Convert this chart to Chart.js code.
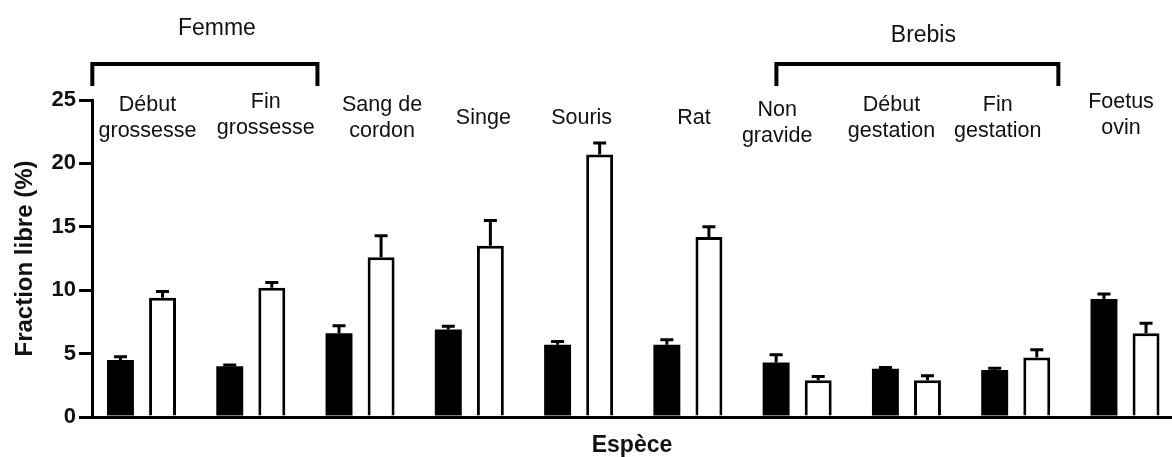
<!DOCTYPE html>
<html lang="fr">
<head>
<meta charset="utf-8">
<title>Fraction libre par espèce</title>
<script src="https://cdn.jsdelivr.net/npm/chart.js@4/dist/chart.umd.min.js"></script>
<style>
  html, body { margin: 0; padding: 0; background: #ffffff; overflow: hidden; }
  #wrap { width: 1172px; height: 457px; }
</style>
</head>
<body>
<div id="wrap"><canvas id="chart" width="1172" height="457"></canvas></div>
<script>
// Categories (one per pair of bars), written as label lines
const categories = [
  ['Début', 'grossesse'],
  ['Fin', 'grossesse'],
  ['Sang de', 'cordon'],
  ['Singe'],
  ['Souris'],
  ['Rat'],
  ['Non', 'gravide'],
  ['Début', 'gestation'],
  ['Fin', 'gestation'],
  ['Foetus', 'ovin']
];

// Filled bars and their upper error (SEM)
const solidValues = [4.5, 4.0, 6.6, 6.9, 5.7, 5.7, 4.3, 3.8, 3.7, 9.3];
const solidErrors = [0.25, 0.1, 0.6, 0.25, 0.25, 0.4, 0.6, 0.1, 0.15, 0.4];

// Open bars and their upper error (SEM)
const openValues = [9.4, 10.2, 12.6, 13.5, 20.7, 14.2, 2.9, 2.9, 4.7, 6.6];
const openErrors = [0.5, 0.4, 1.7, 2.0, 0.9, 0.8, 0.3, 0.35, 0.6, 0.8];

// Y axis ticks
const yTicks = [0, 5, 10, 15, 20, 25];

// Groups of categories under a bracket
const groups = [
  { label: 'Femme', from: 0, to: 1 },
  { label: 'Brebis', from: 6, to: 8 }
];

const FONT = '"Liberation Sans", Arial, Helvetica, sans-serif';

// Layout of the category captions: horizontal / vertical nudges in px
const labelDx = [6, 15, 22, 14, 3, 6, -20, -15, -18, -4];
const labelDy = [0, -3, 0, 0, 0, 0, 5, 0, 0, -3];

// Bracket extents beyond the first / last grouped category (in category units)
const bracketStyle = {
  Femme: { padLeft: 0.45, padRight: 0.61, textDx: 12, textY: 29 },
  Brebis: { padLeft: 0.19, padRight: 0.39, textDx: 6, textY: 36 }
};

const whiteBackground = {
  id: 'whiteBackground',
  beforeDraw(chart) {
    const { ctx, width, height } = chart;
    ctx.save();
    ctx.fillStyle = '#ffffff';
    ctx.fillRect(0, 0, width, height);
    ctx.restore();
  }
};

// Upper error bars drawn on top of each bar
const errorBars = {
  id: 'errorBars',
  afterDatasetsDraw(chart) {
    const { ctx } = chart;
    const y = chart.scales.y;
    ctx.save();
    ctx.strokeStyle = '#000';
    ctx.lineWidth = 3;
    ctx.lineCap = 'butt';
    chart.data.datasets.forEach((ds, di) => {
      const meta = chart.getDatasetMeta(di);
      meta.data.forEach((bar, i) => {
        const v = ds.data[i].y;
        const e = ds.errors[i];
        const yTop = y.getPixelForValue(v + e);
        const yBar = y.getPixelForValue(v);
        const half = 6.5;
        ctx.beginPath();
        ctx.moveTo(bar.x, yBar);
        ctx.lineTo(bar.x, yTop);
        ctx.moveTo(bar.x - half, yTop);
        ctx.lineTo(bar.x + half, yTop);
        ctx.stroke();
      });
    });
    ctx.restore();
  }
};

// Category names inside the top of the plot, and the group brackets above
const categoryLabels = {
  id: 'categoryLabels',
  afterDraw(chart) {
    const { ctx } = chart;
    const x = chart.scales.x;
    ctx.save();
    ctx.fillStyle = '#111';
    ctx.textAlign = 'center';
    ctx.textBaseline = 'middle';
    ctx.font = '21.5px ' + FONT;
    categories.forEach((lines, i) => {
      const cx = x.getPixelForValue(i) + labelDx[i];
      const dy = labelDy[i];
      if (lines.length === 1) {
        ctx.fillText(lines[0], cx, 118 + dy);
      } else {
        ctx.fillText(lines[0], cx, 105 + dy);
        ctx.fillText(lines[1], cx, 131 + dy);
      }
    });

    ctx.strokeStyle = '#000';
    ctx.lineWidth = 4;
    ctx.lineCap = 'butt';
    ctx.lineJoin = 'miter';
    ctx.font = '23px ' + FONT;
    groups.forEach(g => {
      const st = bracketStyle[g.label];
      const x0 = x.getPixelForValue(g.from - st.padLeft);
      const x1 = x.getPixelForValue(g.to + st.padRight);
      ctx.beginPath();
      ctx.moveTo(x0, 86);
      ctx.lineTo(x0, 64);
      ctx.lineTo(x1, 64);
      ctx.lineTo(x1, 86);
      ctx.stroke();
      ctx.fillText(g.label, (x0 + x1) / 2 + st.textDx, st.textY);
    });
    ctx.restore();
  }
};

const toPoints = vals => vals.map((v, i) => ({ x: i, y: v }));

new Chart(document.getElementById('chart'), {
  type: 'bar',
  data: {
    datasets: [
      {
        label: 'A',
        data: toPoints(solidValues),
        errors: solidErrors,
        backgroundColor: '#000',
        borderColor: '#000',
        borderWidth: 0
      },
      {
        label: 'B',
        data: toPoints(openValues),
        errors: openErrors,
        backgroundColor: '#fff',
        borderColor: '#000',
        borderWidth: 3,
        borderSkipped: 'bottom'
      }
    ]
  },
  options: {
    responsive: false,
    animation: false,
    categoryPercentage: 0.77,
    barPercentage: 0.64,
    layout: { padding: { top: 100, right: 0, left: 0, bottom: 0 } },
    plugins: {
      legend: { display: false },
      tooltip: { enabled: false }
    },
    scales: {
      x: {
        type: 'linear',
        min: -0.453,
        max: 9.43,
        offset: false,
        grid: { display: false },
        border: { display: true, color: '#000', width: 3 },
        ticks: { display: false, stepSize: 1, includeBounds: false },
        title: {
          display: true,
          text: 'Espèce',
          color: '#111',
          font: { family: FONT, size: 23, weight: 'bold', lineHeight: 1 },
          padding: { top: 0, bottom: 0 }
        },
        afterFit(scale) { scale.height = 40; }
      },
      y: {
        min: 0,
        max: 25,
        afterBuildTicks(scale) { scale.ticks = yTicks.map(v => ({ value: v })); },
        grid: {
          display: true,
          drawOnChartArea: false,
          drawTicks: true,
          tickLength: 13,
          color: '#000',
          lineWidth: 3
        },
        border: { display: true, color: '#000', width: 3 },
        ticks: {
          color: '#111',
          padding: 3,
          font: { family: FONT, size: 22, weight: 'bold' }
        },
        title: {
          display: true,
          text: 'Fraction libre (%)',
          color: '#111',
          font: { family: FONT, size: 24, weight: 'bold', lineHeight: 1.2 },
          padding: { top: 11, bottom: 0 }
        },
        afterFit(scale) { scale.width = 92; }
      }
    }
  },
  plugins: [whiteBackground, errorBars, categoryLabels]
});
</script>
</body>
</html>
